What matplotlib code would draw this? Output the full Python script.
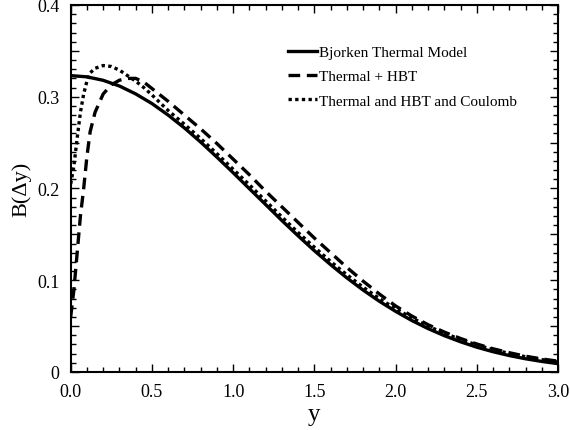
import matplotlib
matplotlib.use("Agg")
import matplotlib.pyplot as plt
from matplotlib.ticker import MultipleLocator, FuncFormatter

plt.rcParams['font.family'] = ['Liberation Serif', 'DejaVu Serif']

# Bjorken thermal model
x_solid = [0.0, 0.1, 0.2, 0.3, 0.4, 0.5, 0.6, 0.7, 0.8, 0.9, 1.0, 1.1, 1.2, 1.3, 1.4, 1.5,
           1.6, 1.7, 1.8, 1.9, 2.0, 2.1, 2.2, 2.3, 2.4, 2.5, 2.6, 2.7, 2.8, 2.9, 3.0]
b_solid = [0.323, 0.3217, 0.3179, 0.3117, 0.3031, 0.2926, 0.2800, 0.2660, 0.2506, 0.2342,
           0.2172, 0.1998, 0.1825, 0.1651, 0.1484, 0.1322, 0.1170, 0.1026, 0.0893, 0.0771,
           0.0661, 0.0561, 0.0473, 0.0396, 0.0329, 0.0270, 0.0221, 0.0179, 0.0144, 0.0115, 0.0091]

# Thermal + HBT
x_dash = [0.0, 0.02, 0.04, 0.06, 0.08, 0.1, 0.12, 0.15, 0.2, 0.25, 0.3, 0.35, 0.4, 0.45, 0.5,
          0.6, 0.7, 0.8, 0.9, 1.0, 1.1, 1.2, 1.3, 1.4, 1.5, 1.6, 1.7, 1.8, 1.9, 2.0,
          2.1, 2.2, 2.3, 2.4, 2.5, 2.6, 2.7, 2.8, 2.9, 3.0]
b_dash = [0.060, 0.090, 0.130, 0.170, 0.200, 0.235, 0.262, 0.283, 0.303, 0.313, 0.318, 0.320,
          0.320, 0.316, 0.309, 0.295, 0.280, 0.265, 0.249, 0.232, 0.215, 0.197, 0.180, 0.163,
          0.146, 0.130, 0.114, 0.099, 0.085, 0.072, 0.061, 0.0515, 0.0435, 0.0365, 0.0305,
          0.0253, 0.0210, 0.0172, 0.0142, 0.0118]

# Thermal and HBT and Coulomb
x_dot = [0.0, 0.02, 0.04, 0.06, 0.08, 0.1, 0.12, 0.15, 0.2, 0.25, 0.3, 0.35, 0.4, 0.45, 0.5,
         0.6, 0.7, 0.8, 0.9, 1.0, 1.1, 1.2, 1.3, 1.4, 1.5, 1.6, 1.7, 1.8, 1.9, 2.0,
         2.1, 2.2, 2.3, 2.4, 2.5, 2.6, 2.7, 2.8, 2.9, 3.0]
b_dot = [0.205, 0.225, 0.255, 0.283, 0.303, 0.317, 0.326, 0.331, 0.334, 0.333, 0.329, 0.323,
         0.317, 0.310, 0.302, 0.285, 0.270, 0.2545, 0.238, 0.221, 0.204, 0.1865, 0.169, 0.152,
         0.136, 0.1205, 0.106, 0.0925, 0.080, 0.069, 0.059, 0.050, 0.0422, 0.0355, 0.0295,
         0.0245, 0.0202, 0.0166, 0.0135, 0.0108]

labels = ["Bjorken Thermal Model", "Thermal + HBT", "Thermal and HBT and Coulomb"]
x_ticks = [0.0, 0.5, 1.0, 1.5, 2.0, 2.5, 3.0]

fig = plt.figure(figsize=(5.70, 4.31), dpi=100)
ax = fig.add_axes([0.124, 0.1346, 0.855, 0.8515])

ax.plot(x_solid, b_solid, color='black', lw=2.4, ls='-', label=labels[0])
ax.plot(x_dash, b_dash, color='black', lw=2.4, ls=(0, (3.5, 2)), label=labels[1])
ax.plot(x_dot, b_dot, color='black', lw=2.4, ls=(0, (1, 1)), label=labels[2])

ax.set_xlim(0, 3.0)
ax.set_ylim(0, 0.4)
ax.set_xticks(x_ticks)
ax.xaxis.set_major_formatter(FuncFormatter(lambda v, p: f"{v:.1f}"))
ax.xaxis.set_minor_locator(MultipleLocator(0.1))
ax.yaxis.set_major_locator(MultipleLocator(0.05))
ax.yaxis.set_minor_locator(MultipleLocator(0.01))

def yfmt(v, p):
    k = round(v * 100)
    if k % 10 != 0:
        return ""
    if k == 0:
        return "0"
    return f"{v:.1f}"

ax.yaxis.set_major_formatter(FuncFormatter(yfmt))

ax.tick_params(which='both', direction='in', top=True, right=True, width=1.0)
ax.tick_params(which='major', length=6, labelsize=13, pad=8)
ax.tick_params(which='minor', length=3.5)
for s in ax.spines.values():
    s.set_linewidth(1.5)

ax.set_xlabel("y", fontsize=18, labelpad=2)
ax.set_ylabel("B(Δy)", fontsize=16, labelpad=4)

ax.legend(loc='upper left', bbox_to_anchor=(0.446, 0.89), frameon=False, fontsize=11,
          handlelength=1.9, handletextpad=0.1, borderpad=0, borderaxespad=0,
          labelspacing=0.7)

fig.savefig("out.png", dpi=100)
